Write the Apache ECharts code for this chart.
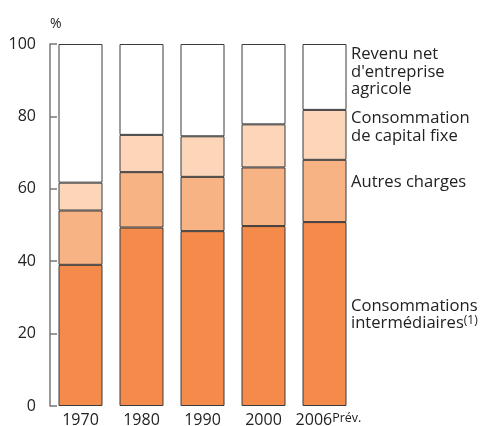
<!DOCTYPE html>
<html>
<head>
<meta charset="utf-8">
<script src="https://cdn.jsdelivr.net/npm/echarts@6/dist/echarts.min.js"></script>
<style>
  html, body { margin: 0; padding: 0; background: #fff; }
  #chart { width: 481px; height: 426px; }
</style>
</head>
<body>
<div id="chart"></div>
<script>
    // données (en % du total)
    var years = ['1970', '1980', '1990', '2000', '2006'];
    var intermediaires = [39, 49.3, 48.3, 49.7, 50.8];
    var autresCharges = [15, 15.3, 15, 16.2, 17.2];
    var capitalFixe = [7.7, 10.3, 11.2, 11.9, 13.8];
    var revenuNet = [38.3, 25.1, 25.5, 22.2, 18.2];
    var yTicks = [0, 20, 40, 60, 80, 100];

    var font = '"Open Sans", sans-serif';
    var border = '#3a3a3a';

    function serie(name, data, color) {
        return {
            name: name,
            type: 'bar',
            stack: 'total',
            barWidth: 44,
            data: data,
            itemStyle: { color: color, borderColor: border, borderWidth: 1 },
            emphasis: { disabled: true }
        };
    }

    function txt(str, x, y) {
        return {
            type: 'text', left: x, top: y,
            style: { text: str, font: '16.6px ' + font, fill: '#222' }
        };
    }

    var myChart = echarts.init(document.getElementById('chart'));
    var option = {
        animation: false,
        grid: { left: 50, right: 126, top: 44, bottom: 20, containLabel: false, outerBoundsMode: 'none' },
        xAxis: {
            type: 'category',
            data: years,
            axisLine: { show: false },
            axisTick: { show: false },
            axisLabel: {
                interval: 0,
                margin: 6,
                fontFamily: font,
                fontSize: 16,
                color: '#222',
                formatter: function(v) {
                    return v == '2006' ? '{a|2006}{b|Prév.}' : v;
                },
                rich: {
                    a: { fontFamily: font, fontSize: 16, color: '#222', padding: [0, 0, 0, 8] },
                    b: { fontFamily: font, fontSize: 12.5, color: '#222', verticalAlign: 'top' }
                }
            }
        },
        yAxis: {
            type: 'value',
            min: yTicks[0],
            max: yTicks[yTicks.length - 1],
            interval: 20,
            name: '%',
            nameLocation: 'end',
            nameGap: 20,
            nameTextStyle: { fontFamily: font, fontSize: 14, color: '#222', align: 'left', verticalAlign: 'middle' },
            splitLine: { show: false },
            axisLine: { show: true, lineStyle: { color: '#777', width: 1.5 } },
            axisTick: { show: true, inside: true, length: 7, lineStyle: { color: '#777', width: 1.5 } },
            axisLabel: { margin: 14, fontFamily: font, fontSize: 16, color: '#222' }
        },
        series: [
            serie('Consommations intermédiaires', intermediaires, '#f58b4a'),
            serie('Autres charges', autresCharges, '#f8b385'),
            serie('Consommation de capital fixe', capitalFixe, '#fdd6ba'),
            serie("Revenu net d'entreprise agricole", revenuNet, '#ffffff')
        ],
        graphic: [
            txt('Revenu net', 351, 46),
            txt("d'entreprise", 351, 63.5),
            txt('agricole', 351, 81),
            txt('Consommation', 351, 110),
            txt('de capital fixe', 351, 127.5),
            txt('Autres charges', 351, 173.5),
            txt('Consommations', 351, 297.5),
            {
                type: 'text', left: 351, top: 315,
                style: {
                    text: '{a|intermédiaires}{b|(1)}',
                    rich: {
                        a: { font: '16.6px ' + font, fill: '#222' },
                        b: { font: '12px ' + font, fill: '#222', verticalAlign: 'top' }
                    }
                }
            }
        ]
    };
    myChart.setOption(option);
</script>
</body>
</html>
